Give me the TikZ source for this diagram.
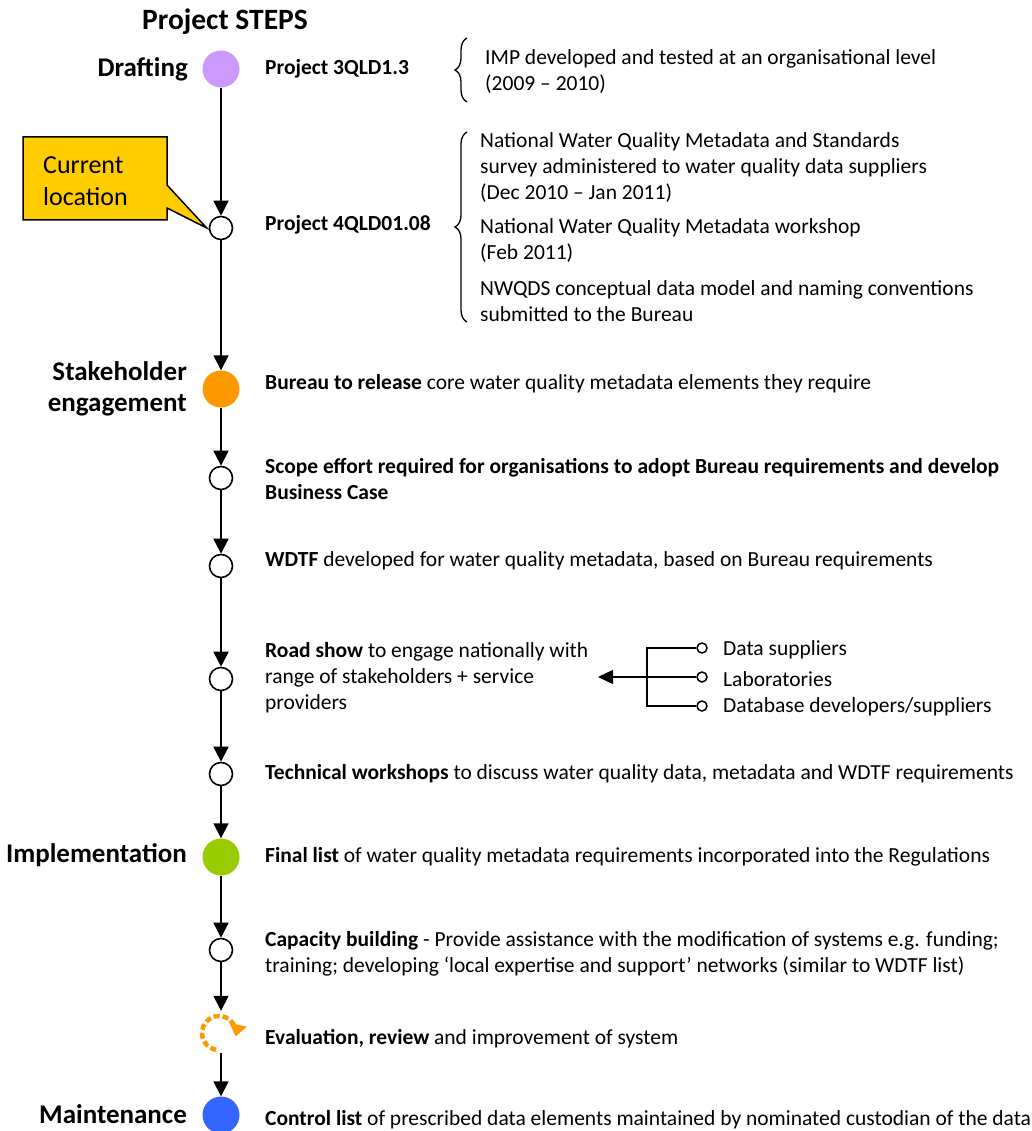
\documentclass[tikz,border=0pt]{standalone}
\usepackage{fontspec}
\setmainfont{Carlito}
\usetikzlibrary{arrows.meta,decorations.pathreplacing}
\definecolor{purpleC}{HTML}{CC99FF}
\definecolor{orangeC}{HTML}{FF9900}
\definecolor{greenC}{HTML}{99CC00}
\definecolor{blueC}{HTML}{3366FF}
\definecolor{yellowC}{HTML}{FFCC00}
\begin{document}
\begin{tikzpicture}[x=1pt,y=1pt,
  bigdot/.style={circle,minimum size=37pt,inner sep=0pt},
  smalldot/.style={circle,draw,line width=1.6pt,fill=white,minimum size=23pt,inner sep=0pt},
  tinydot/.style={circle,draw,line width=1.5pt,fill=white,minimum size=10pt,inner sep=0pt},
  flow/.style={line width=1.6pt,-{Triangle[length=15pt,width=15pt]}},
  txt/.style={anchor=west,inner sep=0pt,align=left,font=\fontsize{21.5}{26}\selectfont},
  stage/.style={anchor=east,inner sep=0pt,align=right,font=\fontsize{27}{31}\selectfont\bfseries},
  bracestyle/.style={line width=1.3pt,decorate,decoration={brace,amplitude=12pt,aspect=0.5}},
]
\useasboundingbox (0,0) rectangle (1032,-1131);

% title and stage labels
\node[inner sep=0pt,anchor=base,font=\fontsize{29.5}{34}\selectfont\bfseries] (title) at (225,-30) {Project STEPS};
\node[stage] (lDraft) at (188,-69) {Drafting};
\node[stage] (lStake) at (187,-389) {Stakeholder\\engagement};
\node[stage] (lImpl) at (187,-855) {Implementation};
\node[stage] (lMaint) at (187,-1114) {Maintenance};

% timeline dots
\node[bigdot,fill=purpleC] (n1) at (221,-69) {};
\node[smalldot] (n2) at (221,-228) {};
\node[bigdot,fill=orangeC] (n3) at (221,-389) {};
\node[smalldot] (n4) at (221,-478) {};
\node[smalldot] (n5) at (221,-566) {};
\node[smalldot] (n6) at (221,-679) {};
\node[smalldot] (n7) at (221,-774) {};
\node[bigdot,fill=greenC] (n8) at (221,-857) {};
\node[smalldot] (n9) at (221,-950) {};
\node[circle,minimum size=42pt,inner sep=0pt] (n10) at (221,-1032) {};
\node[bigdot,fill=blueC] (n11) at (221,-1115) {};

% evaluation loop icon
\draw[orangeC,line width=4.5pt,dash pattern=on 6pt off 3pt,-{Triangle[length=12pt,width=17pt]}]
  (219,-1033) ++(-100:17pt) arc[start angle=-100,end angle=-372,radius=17pt];

% connectors
\draw[flow] (n1) -- (n2);
\draw[flow] (n2) -- (n3);
\draw[flow] (n3) -- (n4);
\draw[flow] (n4) -- (n5);
\draw[flow] (n5) -- (n6);
\draw[flow] (n6) -- (n7);
\draw[flow] (n7) -- (n8);
\draw[flow] (n8) -- (n9);
\draw[flow] (n9) -- (n10);
\draw[flow] (n10) -- (n11);

% callout
\draw[line width=1.5pt,fill=yellowC] (23,-137) -- (167,-137) -- (167,-185) -- ([xshift=-2pt]n2.west) -- (167,-208) -- (167,-220) -- (23,-220) -- cycle;
\node[inner sep=0pt,align=left,anchor=west,font=\fontsize{26}{32}\selectfont] (callout) at (43,-181) {Current\\location};

% step texts
\node[txt] (t1) at (265,-69) {\textbf{Project 3QLD1.3}};
\node[txt] (t2) at (265,-225) {\textbf{Project 4QLD01.08}};
\node[txt] (t3) at (265,-384) {\textbf{Bureau to release} core water quality metadata elements they require};
\node[txt] (t4) at (265,-479) {\textbf{Scope effort required for organisations to adopt Bureau requirements and develop}\\\textbf{Business Case}};
\node[txt] (t5) at (265,-561) {\textbf{WDTF} developed for water quality metadata, based on Bureau requirements};
\node[txt] (t6) at (265,-678) {\textbf{Road show} to engage nationally with\\range of stakeholders + service\\providers};
\node[txt] (t7) at (265,-774) {\textbf{Technical workshops} to discuss water quality data, metadata and WDTF requirements};
\node[txt] (t8) at (265,-857) {\textbf{Final list} of water quality metadata requirements incorporated into the Regulations};
\node[txt] (t9) at (265,-954) {\textbf{Capacity building} - Provide assistance with the modification of systems e.g. funding;\\training; developing ‘local expertise and support’ networks (similar to WDTF list)};
\node[txt] (t10) at (265,-1039) {\textbf{Evaluation, review} and improvement of system};
\node[txt] (t11) at (265,-1120) {\textbf{Control list} of prescribed data elements maintained by nominated custodian of the data};

% braces and their texts
\draw[bracestyle] (467,-102) -- (467,-38);
\node[txt] (b1) at (485,-72) {IMP developed and tested at an organisational level\\(2009 – 2010)};
\draw[bracestyle] (467,-322) -- (467,-132);
\node[txt] (b2) at (480,-168) {National Water Quality Metadata and Standards\\survey administered to water quality data suppliers\\(Dec 2010 – Jan 2011)};
\node[txt] (b3) at (480,-241) {National Water Quality Metadata workshop\\(Feb 2011)};
\node[txt] (b4) at (480,-301) {NWQDS conceptual data model and naming conventions\\submitted to the Bureau};

% road show audience
\node[tinydot] (s1) at (702,-648) {};
\node[tinydot] (s2) at (702,-677) {};
\node[tinydot] (s3) at (702,-706) {};
\node[txt] (a1) at (723,-650) {Data suppliers};
\node[txt] (a2) at (723,-679) {Laboratories};
\node[txt] (a3) at (723,-707) {Database developers/suppliers};
\coordinate (rsend) at (598,-677);
\draw[line width=1.5pt] (s1.west) -- (647,-648) -- (647,-706) -- (s3.west);
\draw[line width=1.5pt,-{Triangle[length=15pt,width=14pt]}] (s2.west) -- (rsend);
\end{tikzpicture}
\end{document}
